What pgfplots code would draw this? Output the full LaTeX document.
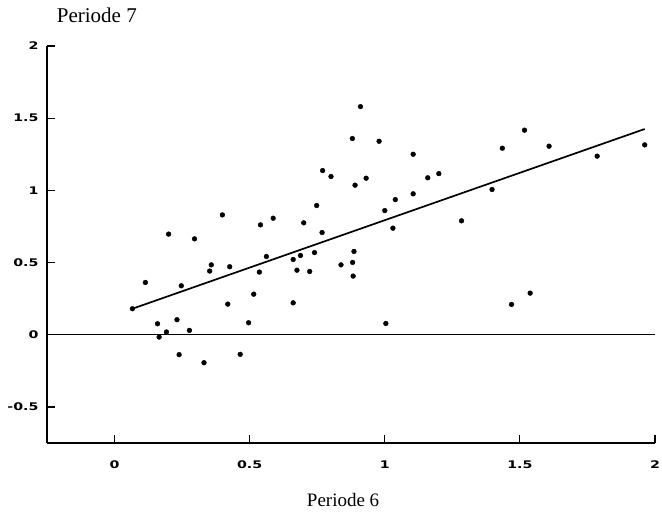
\documentclass[border=0pt]{standalone}
\usepackage{graphicx}
\usepackage{fontspec}
\setmainfont{Liberation Serif}
\newfontfamily\tickfont{DejaVu Sans}
\usepackage{pgfplots}
\pgfplotsset{compat=1.18}
\usepackage{pgfplotstable}
\newcommand\tk[1]{\scalebox{1.35}[1]{\tickfont\bfseries\fontsize{10.5}{10.5}\selectfont #1}}

\pgfplotstableread{
x y
0.066 0.180
0.200 0.697
0.296 0.664
0.114 0.362
0.358 0.484
0.352 0.441
0.426 0.471
0.247 0.339
0.536 0.434
0.540 0.761
0.419 0.212
0.515 0.281
0.496 0.083
0.159 0.076
0.231 0.104
0.192 0.019
0.165 -0.016
0.277 0.030
0.239 -0.138
0.331 -0.194
0.465 -0.136
0.587 0.807
0.770 1.137
0.801 1.096
0.890 1.036
0.931 1.084
0.748 0.895
0.700 0.775
0.768 0.708
1.000 0.860
1.039 0.936
1.030 0.738
0.562 0.542
0.661 0.521
0.688 0.549
0.740 0.569
0.675 0.447
0.722 0.438
0.838 0.484
0.886 0.577
0.881 0.501
0.883 0.406
0.661 0.221
0.910 1.580
0.880 1.359
0.979 1.340
1.105 1.250
1.200 1.116
1.159 1.087
1.435 1.292
1.105 0.976
1.397 1.006
1.284 0.789
1.517 1.417
1.608 1.306
1.786 1.237
1.962 1.315
1.004 0.078
1.469 0.210
1.538 0.288
0.399 0.830
}\pts

\begin{document}
\begin{tikzpicture}
\useasboundingbox (-47pt,-73pt) rectangle (615pt,443pt);
\begin{axis}[
  at={(0,0)}, anchor=south west,
  scale only axis,
  width=608pt, height=397pt,
  xmin=-0.25, xmax=2, ymin=-0.75, ymax=2,
  axis lines*=left,
  axis line style={line width=1.6pt},
  xtick={0,0.5,1,1.5,2},
  xticklabels={\tk{0},\tk{0.5},\tk{1},\tk{1.5},\tk{2}},
  ytick={-0.5,0,0.5,1,1.5,2},
  yticklabels={\tk{-0.5},\tk{0},\tk{0.5},\tk{1},\tk{1.5},\tk{2}},
  tick align=inside,
  major tick length=8pt,
  tick style={black, line width=1.2pt},
  xtick pos=bottom, ytick pos=left,
  xticklabel style={yshift=-14pt},
  yticklabel style={xshift=-5pt},
  clip=false,
  xlabel={Periode 6},
  xlabel style={at={(axis description cs:0.487,-0.161)}, anchor=base, font=\fontsize{19}{19}\selectfont},
  title={Periode 7},
  title style={at={(axis description cs:0.082,1.043)}, anchor=base, font=\fontsize{21}{21}\selectfont},
]
\addplot[black, line width=1.3pt] coordinates {(-0.25,0) (2,0)};
\addplot[black, line width=1.7pt] coordinates {(0.066,0.18) (1.962,1.425)};
\addplot[only marks, mark=*, mark size=2.4pt, black] table[x=x,y=y] {\pts};
\end{axis}
\end{tikzpicture}
\end{document}
